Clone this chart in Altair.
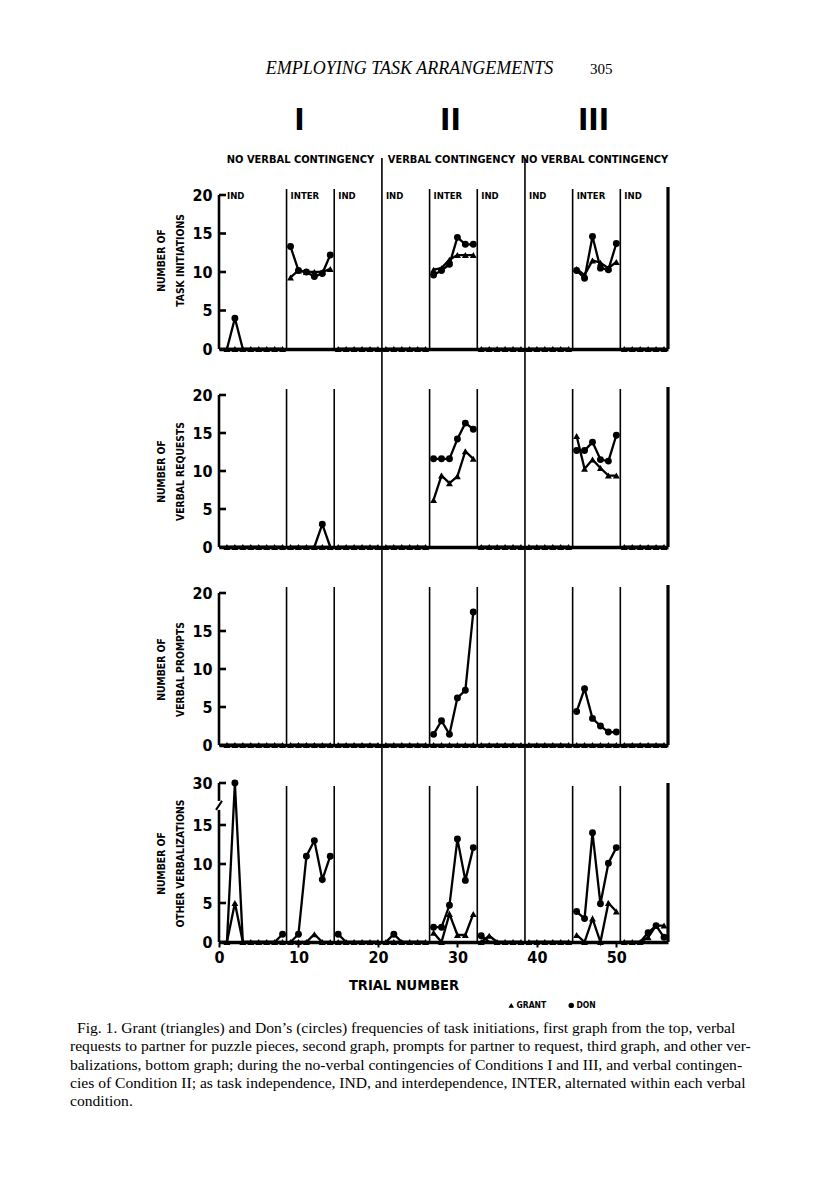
import altair as alt
import pandas as pd

NARROW = "Liberation Sans Narrow, DejaVu Sans Condensed, Arial Narrow, sans-serif"
SERIF = "Liberation Serif, DejaVu Serif, serif"

# ---------------- data ----------------
trials = list(range(1, 57))
phase_names = ["IND", "INTER", "IND", "IND", "INTER", "IND", "IND", "INTER", "IND"]
phase_starts = [0.5, 8.5, 14.5, 20.5, 26.5, 32.5, 38.5, 44.5, 50.5]
condition_numerals = ["I", "II", "III"]
condition_labels = ["NO VERBAL CONTINGENCY", "VERBAL CONTINGENCY", "NO VERBAL CONTINGENCY"]
condition_bounds = [0.5, 20.5, 38.5, 56.5]
x_ticks = [0, 10, 20, 30, 40, 50]
y_ticks_20 = [0, 5, 10, 15, 20]
y_ticks_other = [0, 5, 10, 15, 30]

grant_task = [0, 0, 0, 0, 0, 0, 0, 0,
              9.3, 10.2, 10.0, 10.0, 10.0, 10.4,
              0, 0, 0, 0, 0, 0,
              0, 0, 0, 0, 0, 0,
              10.3, 10.5, 11.6, 12.2, 12.2, 12.2,
              0, 0, 0, 0, 0, 0,
              0, 0, 0, 0, 0, 0,
              10.4, 9.6, 11.5, 11.2, 10.5, 11.3,
              0, 0, 0, 0, 0, 0]
don_task = [0, 4, 0, 0, 0, 0, 0, 0,
            13.3, 10.2, 10.0, 9.4, 9.8, 12.2,
            0, 0, 0, 0, 0, 0,
            0, 0, 0, 0, 0, 0,
            9.6, 10.2, 11.0, 14.5, 13.6, 13.6,
            0, 0, 0, 0, 0, 0,
            0, 0, 0, 0, 0, 0,
            10.2, 9.2, 14.6, 10.5, 10.3, 13.7,
            0, 0, 0, 0, 0, 0]
grant_requests = [0, 0, 0, 0, 0, 0, 0, 0,
                  0, 0, 0, 0, 0, 0,
                  0, 0, 0, 0, 0, 0,
                  0, 0, 0, 0, 0, 0,
                  6.2, 9.4, 8.4, 9.3, 12.6, 11.6,
                  0, 0, 0, 0, 0, 0,
                  0, 0, 0, 0, 0, 0,
                  14.6, 10.3, 11.5, 10.4, 9.4, 9.4,
                  0, 0, 0, 0, 0, 0]
don_requests = [0, 0, 0, 0, 0, 0, 0, 0,
                0, 0, 0, 0, 3, 0,
                0, 0, 0, 0, 0, 0,
                0, 0, 0, 0, 0, 0,
                11.6, 11.6, 11.6, 14.2, 16.3, 15.5,
                0, 0, 0, 0, 0, 0,
                0, 0, 0, 0, 0, 0,
                12.7, 12.7, 13.8, 11.5, 11.3, 14.7,
                0, 0, 0, 0, 0, 0]
grant_prompts = [0, 0, 0, 0, 0, 0, 0, 0,
                 0, 0, 0, 0, 0, 0,
                 0, 0, 0, 0, 0, 0,
                 0, 0, 0, 0, 0, 0,
                 0, 0, 0, 0, 0, 0,
                 0, 0, 0, 0, 0, 0,
                 0, 0, 0, 0, 0, 0,
                 0, 0, 0, 0, 0, 0,
                 0, 0, 0, 0, 0, 0]
don_prompts = [0, 0, 0, 0, 0, 0, 0, 0,
               0, 0, 0, 0, 0, 0,
               0, 0, 0, 0, 0, 0,
               0, 0, 0, 0, 0, 0,
               1.4, 3.2, 1.4, 6.2, 7.2, 17.5,
               0, 0, 0, 0, 0, 0,
               0, 0, 0, 0, 0, 0,
               4.4, 7.4, 3.5, 2.5, 1.7, 1.7,
               0, 0, 0, 0, 0, 0]
grant_other = [0, 5, 0, 0, 0, 0, 0, 0,
               0, 0, 0, 1, 0, 0,
               0, 0, 0, 0, 0, 0,
               0, 0, 0, 0, 0, 0,
               1.2, 0, 3.6, 0.9, 0.9, 3.6,
               0, 0.8, 0, 0, 0, 0,
               0, 0, 0, 0, 0, 0,
               0.9, 0, 3.0, 0, 5.0, 3.9,
               0, 0, 0, 0.6, 2.1, 2.1]
don_other = [0, 30, 0, 0, 0, 0, 0, 1,
             0, 1, 11, 13, 8, 11,
             1, 0, 0, 0, 0, 0,
             0, 1, 0, 0, 0, 0,
             1.9, 1.9, 4.7, 13.2, 7.9, 12.1,
             0.8, 0, 0, 0, 0, 0,
             0, 0, 0, 0, 0, 0,
             3.9, 3.0, 14.0, 4.9, 10.1, 12.1,
             0, 0, 0, 1.2, 2.1, 0.6]

panel_titles = [["NUMBER OF", "TASK INITIATIONS"],
                ["NUMBER OF", "VERBAL REQUESTS"],
                ["NUMBER OF", "VERBAL PROMPTS"],
                ["NUMBER OF", "OTHER VERBALIZATIONS"]]
players = ["GRANT", "DON"]
player_shapes = ["triangle-up", "circle"]

running_head = "EMPLOYING TASK ARRANGEMENTS"
page_number = "305"
x_title = "TRIAL NUMBER"
caption_lines = [
    "Fig. 1. Grant (triangles) and Don\u2019s (circles) frequencies of task initiations, first graph from the top, verbal",
    "requests to partner for puzzle pieces, second graph, prompts for partner to request, third graph, and other ver-",
    "balizations, bottom graph; during the no-verbal contingencies of Conditions I and III, and verbal contingen-",
    "cies of Condition II; as task independence, IND, and interdependence, INTER, alternated within each verbal",
    "condition.",
]

# ---------------- helpers ----------------
W = 449
XS = alt.Scale(domain=[0, condition_bounds[-1]], nice=False, zero=False)
inner_bounds = [s for s in phase_starts[1:] if s not in condition_bounds]
cond_inner = condition_bounds[1:-1]
end_bound = condition_bounds[-1]


def phase_of(t):
    idx = 0
    for i, s in enumerate(phase_starts):
        if t > s:
            idx = i
    return idx


def long_df(grant, don):
    rows = []
    for t, g, d in zip(trials, grant, don):
        ph = phase_of(t)
        rows.append({"trial": t, "value": g, "player": "GRANT", "seg": f"G{ph}"})
        rows.append({"trial": t, "value": d, "player": "DON", "seg": f"D{ph}"})
    return pd.DataFrame(rows)


def panel(grant, don, title, ticks, yscale, H, title_y, line_top, end_top, label_y=0,
          show_x=False, phase_labels=False, legend=False, axis_segments=None):
    df = long_df(grant, don)
    if show_x:
        xaxis = alt.Axis(values=x_ticks, labelFont=NARROW, labelFontWeight="bold",
                         labelFontSize=16, labelColor="black", labelPadding=2,
                         labelFlush=False, tickSize=5, tickWidth=2, tickColor="black",
                         domainWidth=3.5, domainColor="black", grid=False, title=None)
    else:
        xaxis = alt.Axis(labels=False, ticks=False, domainWidth=3.5,
                         domainColor="black", grid=False, title=None)
    yaxis = alt.Axis(values=ticks, domain=False, ticks=False, grid=False,
                     labelFont=NARROW, labelFontWeight="bold", labelFontSize=16,
                     labelColor="black", labelPadding=7, labelFlush=False,
                     labelOverlap=False,
                     title=title, titleFont=NARROW, titleFontWeight="bold",
                     titleFontSize=10.3, titleColor="black", titleAngle=270,
                     titleX=-58, titleY=title_y, titleAlign="center",
                     titleBaseline="middle", titleLineHeight=19)
    X = lambda f: alt.X(f, scale=XS, axis=xaxis)
    Y = lambda f: alt.Y(f, scale=yscale, axis=yaxis)

    lines = alt.Chart(df).mark_line(color="black", strokeWidth=2.3).encode(
        x=X("trial:Q"), y=Y("value:Q"), detail="seg:N",
    )
    shape_legend = None
    if legend:
        shape_legend = alt.Legend(orient="none", legendX=288, legendY=256,
                                  direction="horizontal", title=None,
                                  labelFont=NARROW, labelFontWeight="bold",
                                  labelFontSize=8.5, labelColor="black",
                                  labelOffset=1, columnPadding=20,
                                  symbolSize=30, symbolFillColor="black",
                                  symbolStrokeColor="black", symbolStrokeWidth=0)
    points = alt.Chart(df).transform_filter(
        "datum.player == 'GRANT' || datum.value > 0"
    ).mark_point(filled=True, color="black", opacity=1, size=48).encode(
        x=X("trial:Q"), y=Y("value:Q"),
        shape=alt.Shape("player:N", scale=alt.Scale(domain=players, range=player_shapes),
                        legend=shape_legend),
    )
    phase_rules = alt.Chart(pd.DataFrame({"b": inner_bounds})).mark_rule(
        color="black", strokeWidth=1.6).encode(
        x=X("b:Q"), y=alt.value(line_top), y2=alt.value(H))
    cond_rules = alt.Chart(pd.DataFrame({"b": cond_inner})).mark_rule(
        color="black", strokeWidth=1.6).encode(
        x=X("b:Q"), y=alt.value(0), y2=alt.value(H))
    end_rule = alt.Chart(pd.DataFrame({"b": [end_bound]})).mark_rule(
        color="black", strokeWidth=3.2).encode(
        x=X("b:Q"), y=alt.value(end_top), y2=alt.value(H))
    if axis_segments is None:
        axis_segments = [(0, ticks[-1])]
    yline = alt.Chart(pd.DataFrame({"lo": [a for a, b in axis_segments],
                                    "hi": [b for a, b in axis_segments]})).mark_rule(
        color="black", strokeWidth=2.6).encode(
        x=alt.value(0), y=Y("lo:Q"), y2="hi:Q")
    tick_marks = alt.Chart(pd.DataFrame({"tick": ticks})).mark_rule(
        color="black", strokeWidth=2.6).encode(
        x=alt.value(0), x2=alt.value(7), y=Y("tick:Q"))
    layers = [lines, phase_rules, cond_rules, end_rule, yline, tick_marks, points]
    if len(axis_segments) > 1:
        gap_lo = axis_segments[0][1]
        gap_hi = axis_segments[1][0]
        brk = alt.Chart(pd.DataFrame({"lo": [gap_lo], "hi": [gap_hi]})).mark_rule(
            color="black", strokeWidth=2).encode(
            x=alt.value(-3), x2=alt.value(3), y=Y("lo:Q"), y2="hi:Q")
        layers.append(brk)
    if phase_labels:
        pl = alt.Chart(pd.DataFrame({"name": phase_names, "start": phase_starts})).mark_text(
            font=NARROW, fontWeight="bold", fontSize=9.5, align="left",
            baseline="middle", dx=4, color="black").encode(
            x=X("start:Q"), y=alt.value(label_y), text="name:N")
        layers.append(pl)
    return alt.layer(*layers).properties(width=W, height=H)


# ---------------- header ----------------
HH = 172
cond_df = pd.DataFrame({"numeral": condition_numerals, "label": condition_labels,
                        "start": condition_bounds[:-1], "end": condition_bounds[1:]})
head_text = alt.Chart(pd.DataFrame({"t": [running_head]})).mark_text(
    font=SERIF, fontStyle="italic", fontSize=18, align="center",
    baseline="alphabetic", color="black").encode(
    x=alt.value(190.5), y=alt.value(66), text="t:N")
page_text = alt.Chart(pd.DataFrame({"t": [page_number]})).mark_text(
    font=SERIF, fontSize=15, align="left", baseline="alphabetic", color="black").encode(
    x=alt.value(371), y=alt.value(66), text="t:N")
numerals = alt.Chart(cond_df).transform_calculate(
    mid="(datum.start + datum.end) / 2").mark_text(
    font=NARROW, fontWeight="bold", fontSize=31, align="center",
    baseline="alphabetic", dx=-3, color="black").encode(
    x=alt.X("mid:Q", scale=XS, axis=None), y=alt.value(122), text="numeral:N")
cond_text = alt.Chart(cond_df).transform_calculate(
    mid="(datum.start + datum.end) / 2").mark_text(
    font=NARROW, fontWeight="bold", fontSize=11, align="center",
    baseline="middle", dx=-2, color="black").encode(
    x=alt.X("mid:Q", scale=XS, axis=None), y=alt.value(152), text="label:N")
head_rules = alt.Chart(pd.DataFrame({"b": cond_inner})).mark_rule(
    color="black", strokeWidth=1.6).encode(
    x=alt.X("b:Q", scale=XS, axis=None), y=alt.value(150), y2=alt.value(HH))
header = alt.layer(head_text, page_text, numerals, cond_text, head_rules).properties(
    width=W, height=HH)

# ---------------- panels ----------------
S20a = alt.Scale(domain=[0, 20], range=[169, 15], nice=False, zero=False)
S20b = alt.Scale(domain=[0, 20], range=[198, 46], nice=False, zero=False)
S30 = alt.Scale(domain=[0, 15, 30], range=[197, 80, 38], nice=False, zero=False)

p1 = panel(grant_task, don_task, panel_titles[0], y_ticks_20, S20a, 169, 80, 9, 7,
           label_y=16, phase_labels=True)
p2 = panel(grant_requests, don_requests, panel_titles[1], y_ticks_20, S20b, 198, 122, 40, 38)
p3 = panel(grant_prompts, don_prompts, panel_titles[2], y_ticks_20, S20b, 198, 122, 40, 38)
p4 = panel(grant_other, don_other, panel_titles[3], y_ticks_other, S30, 197, 118, 41, 38,
           show_x=True, legend=True, axis_segments=[(0, 20.4), (23.6, 30)])

# ---------------- footer ----------------
FH = 168
xt = alt.Chart(pd.DataFrame({"t": [x_title]})).mark_text(
    font=NARROW, fontWeight="bold", fontSize=14.5, align="center",
    baseline="middle", color="black").encode(
    x=alt.value(185), y=alt.value(44), text="t:N")
cap_df = pd.DataFrame({"line": list(range(len(caption_lines))), "text": caption_lines})
cap_scale = alt.Scale(domain=[0, len(caption_lines) - 1], range=[86, 159], nice=False, zero=False)
cap_first = alt.Chart(cap_df).transform_filter("datum.line == 0").mark_text(
    font=SERIF, fontSize=15.6, align="left", baseline="middle", color="black", dx=7).encode(
    x=alt.value(-149), y=alt.Y("line:Q", scale=cap_scale, axis=None), text="text:N")
cap_rest = alt.Chart(cap_df).transform_filter("datum.line > 0").mark_text(
    font=SERIF, fontSize=15.6, align="left", baseline="middle", color="black").encode(
    x=alt.value(-149), y=alt.Y("line:Q", scale=cap_scale, axis=None), text="text:N")
footer = alt.layer(xt, cap_first, cap_rest).properties(width=W, height=FH)

chart = alt.vconcat(header, p1, p2, p3, p4, footer, spacing=0, bounds="flush").resolve_scale(
    x="independent", y="independent", shape="independent"
).resolve_legend(shape="independent").properties(
    background="white",
    padding={"left": 62, "top": 0, "right": 5, "bottom": 5},
).configure_view(strokeWidth=0)

chart.save("out.html", embed_options={"renderer": "svg", "actions": False})
